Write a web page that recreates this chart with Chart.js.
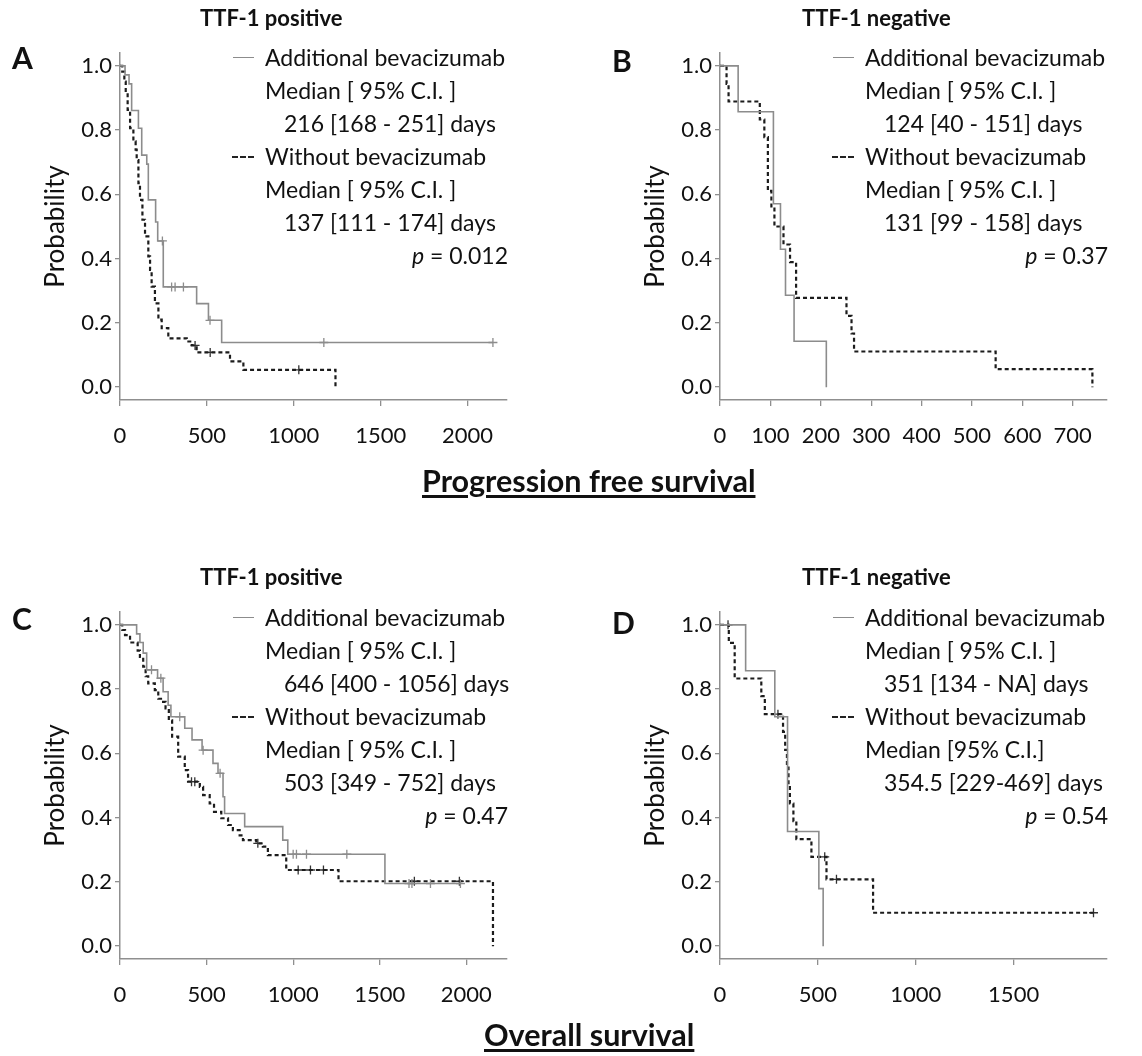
<!DOCTYPE html>
<html>
<head>
<meta charset="utf-8">
<script src="https://cdn.jsdelivr.net/npm/chart.js@4.4.1/dist/chart.umd.min.js"></script>
<style>
  body { margin: 0; background: #fff; }
  #page { position: relative; width: 1142px; height: 1056px; overflow: hidden; font-family: Lato, "Open Sans", sans-serif; color: #111; }
  canvas { position: absolute; }
  .t { position: absolute; white-space: nowrap; font-size: 23px; line-height: 30px; height: 30px; }
  .r { text-align: right; width: 200px; }
  .ttl { position: absolute; white-space: nowrap; font-size: 22px; font-weight: bold; line-height: 30px; }
  .lab { position: absolute; font-size: 30px; font-weight: bold; line-height: 34px; }
  .head { position: absolute; font-size: 30.5px; font-weight: bold; text-decoration: underline; text-underline-offset: 3px; white-space: nowrap; }
  .solid { position: absolute; width: 21px; border-top: 1.5px solid #8c8c8c; }
  .dash { position: absolute; width: 22px; border-top: 2px dashed #222; }
</style>
</head>
<body>
<div id="page">
  <canvas id="cA" width="560" height="470" style="left:0px;top:30px"></canvas>
  <canvas id="cB" width="560" height="470" style="left:600px;top:30px"></canvas>
  <canvas id="cC" width="560" height="470" style="left:0px;top:589px"></canvas>
  <canvas id="cD" width="560" height="470" style="left:600px;top:589px"></canvas>

  <div class="lab" style="left:12px;top:40px">A</div>
  <div class="lab" style="left:612px;top:43px">B</div>
  <div class="lab" style="left:12px;top:601px">C</div>
  <div class="lab" style="left:612px;top:605px">D</div>

  <div class="ttl" style="left:200px;top:3px">TTF-1 positive</div>
  <div class="ttl" style="left:802px;top:3px">TTF-1 negative</div>
  <div class="ttl" style="left:200px;top:562px">TTF-1 positive</div>
  <div class="ttl" style="left:802px;top:562px">TTF-1 negative</div>

  <!-- legend A -->
  <div class="solid" style="left:233px;top:57px"></div>
  <div class="t" style="left:265px;top:42px">Additional bevacizumab</div>
  <div class="t" style="left:265px;top:75px">Median [ 95% C.I. ]</div>
  <div class="t" style="left:284px;top:108px">216 [168 - 251] days</div>
  <div class="dash" style="left:232px;top:156px"></div>
  <div class="t" style="left:265px;top:141px">Without bevacizumab</div>
  <div class="t" style="left:265px;top:174px">Median [ 95% C.I. ]</div>
  <div class="t" style="left:284px;top:207px">137 [111 - 174] days</div>
  <div class="t r" style="left:308px;top:240px"><i>p</i> = 0.012</div>

  <!-- legend B -->
  <div class="solid" style="left:833px;top:57px"></div>
  <div class="t" style="left:865px;top:42px">Additional bevacizumab</div>
  <div class="t" style="left:865px;top:75px">Median [ 95% C.I. ]</div>
  <div class="t" style="left:884px;top:108px">124 [40 - 151] days</div>
  <div class="dash" style="left:832px;top:156px"></div>
  <div class="t" style="left:865px;top:141px">Without bevacizumab</div>
  <div class="t" style="left:865px;top:174px">Median [ 95% C.I. ]</div>
  <div class="t" style="left:884px;top:207px">131 [99 - 158] days</div>
  <div class="t r" style="left:908px;top:240px"><i>p</i> = 0.37</div>

  <!-- legend C -->
  <div class="solid" style="left:233px;top:617px"></div>
  <div class="t" style="left:265px;top:602px">Additional bevacizumab</div>
  <div class="t" style="left:265px;top:635px">Median [ 95% C.I. ]</div>
  <div class="t" style="left:284px;top:668px">646 [400 - 1056] days</div>
  <div class="dash" style="left:232px;top:716px"></div>
  <div class="t" style="left:265px;top:701px">Without bevacizumab</div>
  <div class="t" style="left:265px;top:734px">Median [ 95% C.I. ]</div>
  <div class="t" style="left:284px;top:767px">503 [349 - 752] days</div>
  <div class="t r" style="left:308px;top:800px"><i>p</i> = 0.47</div>

  <!-- legend D -->
  <div class="solid" style="left:833px;top:617px"></div>
  <div class="t" style="left:865px;top:602px">Additional bevacizumab</div>
  <div class="t" style="left:865px;top:635px">Median [ 95% C.I. ]</div>
  <div class="t" style="left:884px;top:668px">351 [134 - NA] days</div>
  <div class="dash" style="left:832px;top:716px"></div>
  <div class="t" style="left:865px;top:701px">Without bevacizumab</div>
  <div class="t" style="left:865px;top:734px">Median [95% C.I.]</div>
  <div class="t" style="left:884px;top:767px">354.5 [229-469] days</div>
  <div class="t r" style="left:908px;top:800px"><i>p</i> = 0.54</div>

  <div class="head" style="left:422px;top:462px">Progression free survival</div>
  <div class="head" style="left:484px;top:1016px">Overall survival</div>
</div>

<script>
// ---- data (days, survival probability) ----

// A: progression free survival, TTF-1 positive
const pfsPosBevDays   = [0, 29, 52, 67, 106, 125, 154, 163, 205, 217, 249, 441, 509, 585, 2146];
const pfsPosBevSurv   = [1, 0.972, 0.944, 0.861, 0.806, 0.722, 0.694, 0.583, 0.514, 0.455, 0.312, 0.26, 0.208, 0.139, 0.139];
const pfsPosBevCensor = [244, 297, 317, 365, 518, 1173, 2146];
const pfsPosNoDays    = [0, 13, 25, 33, 44, 58, 77, 90, 96, 106, 115, 129, 144, 163, 173, 182, 201, 221, 240, 278, 384, 413, 441, 633, 710, 1240];
const pfsPosNoSurv    = [1, 0.982, 0.951, 0.915, 0.863, 0.806, 0.765, 0.739, 0.707, 0.635, 0.583, 0.521, 0.469, 0.407, 0.365, 0.313, 0.261, 0.21, 0.184, 0.152, 0.142, 0.13, 0.108, 0.08, 0.054, 0];
const pfsPosNoCensor  = [432, 519, 1029];

// B: progression free survival, TTF-1 negative
const pfsNegBevDays   = [0, 36, 106, 120, 130, 147, 211];
const pfsNegBevSurv   = [1, 0.857, 0.571, 0.429, 0.286, 0.143, 0];
const pfsNegBevCensor = [];
const pfsNegNoDays    = [0, 13, 17, 79, 88, 95, 102, 108, 126, 139, 151, 251, 261, 266, 547, 739];
const pfsNegNoSurv    = [1, 0.944, 0.889, 0.833, 0.778, 0.611, 0.556, 0.5, 0.444, 0.389, 0.278, 0.222, 0.167, 0.111, 0.056, 0];
const pfsNegNoCensor  = [];

// C: overall survival, TTF-1 positive
const osPosBevDays    = [0, 96, 115, 134, 154, 217, 249, 278, 294, 374, 416, 474, 537, 566, 595, 604, 720, 940, 969, 1530, 1966];
const osPosBevSurv    = [1, 0.972, 0.945, 0.912, 0.86, 0.834, 0.792, 0.75, 0.714, 0.678, 0.642, 0.61, 0.569, 0.538, 0.465, 0.413, 0.372, 0.33, 0.286, 0.195, 0.195];
const osPosBevCensor  = [182, 236, 345, 480, 578, 1000, 1019, 1077, 1310, 1669, 1686, 1793, 1966];
const osPosNoDays     = [0, 13, 29, 58, 102, 115, 134, 148, 163, 201, 221, 249, 263, 282, 301, 336, 374, 393, 461, 480, 518, 543, 585, 624, 652, 691, 710, 787, 825, 854, 960, 1262, 2154];
const osPosNoSurv     = [1, 0.984, 0.968, 0.945, 0.92, 0.9, 0.87, 0.84, 0.818, 0.797, 0.77, 0.76, 0.74, 0.703, 0.652, 0.59, 0.548, 0.512, 0.496, 0.47, 0.444, 0.418, 0.398, 0.377, 0.361, 0.345, 0.33, 0.32, 0.31, 0.283, 0.237, 0.202, 0];
const osPosNoCensor   = [413, 432, 796, 1029, 1100, 1175, 1700, 1960];

// D: overall survival, TTF-1 negative
const osNegBevDays    = [0, 131, 280, 345, 505, 527];
const osNegBevSurv    = [1, 0.857, 0.714, 0.357, 0.179, 0];
const osNegBevCensor  = [];
const osNegNoDays     = [0, 45, 75, 211, 229, 322, 333, 342, 350, 357, 375, 390, 467, 544, 782, 1908];
const osNegNoSurv     = [1, 0.944, 0.833, 0.778, 0.722, 0.667, 0.611, 0.556, 0.5, 0.444, 0.389, 0.333, 0.278, 0.208, 0.104, 0.104];
const osNegNoCensor   = [41, 296, 535, 595, 1908];

// axis ticks
const yTicks       = [0, 0.2, 0.4, 0.6, 0.8, 1.0];
const xTicksWide   = [0, 500, 1000, 1500, 2000];
const xTicksPfsNeg = [0, 100, 200, 300, 400, 500, 600, 700];
const xTicksOsNeg  = [0, 500, 1000, 1500];

// ---- helpers ----
function survAt(days, surv, t) {
  let s = surv[0];
  for (let i = 0; i < days.length; i++) {
    if (days[i] <= t) s = surv[i];
  }
  return s;
}
function curve(days, surv) {
  return days.map((d, i) => ({ x: d, y: surv[i] }));
}
function marks(days, surv, cens) {
  return cens.map(t => ({ x: t, y: survAt(days, surv, t) }));
}

const GREY = '#8c8c8c';
const DARK = '#1c1c1c';
const AXIS = '#8f8f8f';

// cv = canvas box on the page, area = wanted plot area on the page
function panel(id, cv, area, xMax, xTicks, bev, noBev) {
  const datasets = [
    { data: curve(bev.days, bev.surv), borderColor: GREY, borderWidth: 1.6, stepped: true, pointRadius: 0 },
    { data: marks(bev.days, bev.surv, bev.censor), showLine: false, pointStyle: 'cross',
      pointRadius: 4.5, borderColor: GREY, pointBorderWidth: 1.3 },
    { data: curve(noBev.days, noBev.surv), borderColor: DARK, borderWidth: 2.2, borderDash: [4, 3],
      stepped: true, pointRadius: 0 },
    { data: marks(noBev.days, noBev.surv, noBev.censor), showLine: false, pointStyle: 'cross',
      pointRadius: 4.5, borderColor: '#333', pointBorderWidth: 1.3 }
  ];
  new Chart(document.getElementById(id), {
    type: 'line',
    data: { datasets: datasets },
    options: {
      responsive: false,
      animation: false,
      layout: { padding: { left: 0, top: area.top - cv.top, right: cv.left + cv.w - area.right, bottom: 0 } },
      plugins: { legend: { display: false }, tooltip: { enabled: false } },
      scales: {
        x: {
          type: 'linear', min: 0, max: xMax,
          afterBuildTicks: s => { s.ticks = xTicks.map(v => ({ value: v })); },
          afterFit: s => { s.height = cv.top + cv.h - area.bottom; },
          ticks: { color: '#111', font: { family: 'Lato', size: 22 }, padding: 17, maxRotation: 0, autoSkip: false,
                   callback: v => String(v) },
          grid: { drawOnChartArea: false, drawTicks: true, tickLength: 6, color: AXIS, lineWidth: 1.3 },
          border: { display: true, color: AXIS, width: 1.5 }
        },
        y: {
          type: 'linear', min: -0.04, max: 1.04,
          afterBuildTicks: s => { s.ticks = yTicks.map(v => ({ value: v })); },
          afterFit: s => { s.width = area.left - cv.left; },
          ticks: { color: '#111', font: { family: 'Lato', size: 22 }, padding: 3, callback: v => v.toFixed(1) },
          grid: { drawOnChartArea: false, drawTicks: true, tickLength: 5, color: AXIS, lineWidth: 1.3 },
          border: { display: true, color: AXIS, width: 1.5 },
          title: { display: true, text: 'Probability', color: '#111', font: { family: 'Lato', size: 26 },
                   padding: { top: 40, bottom: 0 } }
        }
      }
    }
  });
}

panel('cA', { left: 0, top: 30, w: 560, h: 470 }, { left: 120, top: 53, right: 507, bottom: 400 }, 2227, xTicksWide,
  { days: pfsPosBevDays, surv: pfsPosBevSurv, censor: pfsPosBevCensor },
  { days: pfsPosNoDays, surv: pfsPosNoSurv, censor: pfsPosNoCensor });

panel('cB', { left: 600, top: 30, w: 560, h: 470 }, { left: 720, top: 53, right: 1107, bottom: 400 }, 768, xTicksPfsNeg,
  { days: pfsNegBevDays, surv: pfsNegBevSurv, censor: pfsNegBevCensor },
  { days: pfsNegNoDays, surv: pfsNegNoSurv, censor: pfsNegNoCensor });

panel('cC', { left: 0, top: 589, w: 560, h: 470 }, { left: 120, top: 612, right: 507, bottom: 959 }, 2235, xTicksWide,
  { days: osPosBevDays, surv: osPosBevSurv, censor: osPosBevCensor },
  { days: osPosNoDays, surv: osPosNoSurv, censor: osPosNoCensor });

panel('cD', { left: 600, top: 589, w: 560, h: 470 }, { left: 720, top: 612, right: 1107, bottom: 959 }, 1977, xTicksOsNeg,
  { days: osNegBevDays, surv: osNegBevSurv, censor: osNegBevCensor },
  { days: osNegNoDays, surv: osNegNoSurv, censor: osNegNoCensor });
</script>
</body>
</html>
